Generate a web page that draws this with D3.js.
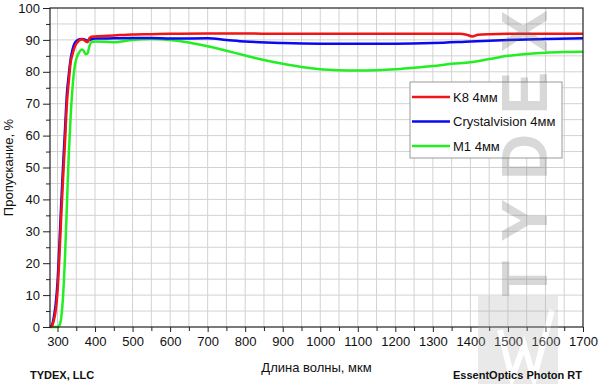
<!DOCTYPE html>
<html>
<head>
<meta charset="utf-8">
<script src="https://cdn.jsdelivr.net/npm/d3@7"></script>
<style>
body { margin: 0; background: #fff; }
text { font-family: "Liberation Sans", Arial, sans-serif; }
</style>
</head>
<body>
<script>
var width = 600, height = 384;
var x0 = 50, x1 = 583, y0 = 8, y1 = 327;

// spectra, wavelength in nm / transmission in %
var k8_wl = [280,285,290,295,300,305,310,315,320,325,330,335,340,345,350,355,360,365,370,375,380,385,390,400,450,500,550,600,700,800,900,1000,1100,1200,1300,1370,1390,1405,1420,1450,1500,1600,1700];
var k8_t  = [0,0.3,2,5,11,22,35,47,58,70,77,83,85.5,87.5,88.8,89.5,90,90.2,90,89.5,89.3,90.5,91,91.1,91.4,91.7,91.8,91.9,92,92,91.9,91.9,91.9,91.9,91.9,91.9,91.6,91.1,91.6,91.8,91.9,91.9,91.9];

var cv_wl = [280,285,290,295,300,305,310,315,320,325,330,335,340,345,350,355,360,365,370,380,390,400,450,500,550,600,700,750,800,900,1000,1100,1200,1300,1400,1500,1600,1700];
var cv_t  = [0,0.5,3,7,14,26,39,51,62,73,79,84,87,88.8,89.6,90,90.2,90.3,90.2,89.8,90.2,90.4,90.5,90.6,90.6,90.4,90.5,90,89.5,89,88.8,88.8,88.8,89,89.5,90,90.3,90.5];

var m1_wl = [280,300,305,310,315,320,325,330,335,340,345,350,355,360,365,370,375,380,385,390,400,450,500,550,600,650,700,750,800,850,900,950,1000,1050,1100,1150,1200,1250,1300,1350,1400,1450,1500,1550,1600,1650,1700];
var m1_t  = [0,0,0.5,3,10,22,38,54,66,75,81,84,85.5,86.5,87,86.5,85.5,85.8,88,89.3,89.5,89.3,90,90.3,90,89.2,88,86.6,85.1,83.7,82.5,81.5,80.8,80.5,80.4,80.5,80.8,81.3,81.8,82.5,83,84,85,85.6,86,86.2,86.3];

var series = [
  {name: 'M1 4мм', wl: m1_wl, t: m1_t, color: '#22ee22'},
  {name: 'Crystalvision 4мм', wl: cv_wl, t: cv_t, color: '#0a0af0'},
  {name: 'K8 4мм', wl: k8_wl, t: k8_t, color: '#f01414'}
];
var legend_order = [2, 1, 0];

var xTicks = d3.range(300, 1701, 100);
var yTicks = d3.range(0, 101, 10);

var svg = d3.select('body').append('svg').attr('width', width).attr('height', height);

var xScale = d3.scaleLinear().domain([280, 1700]).range([x0, x1]);
var yScale = d3.scaleLinear().domain([0, 100]).range([y1, y0]);

// grid, major + minor
var grid = svg.append('g').attr('class', 'grid');
grid.selectAll('.gx').data(d3.range(300, 1700, 50))
  .enter().append('line')
  .attr('x1', d => xScale(d)).attr('x2', d => xScale(d))
  .attr('y1', y0).attr('y2', y1)
  .attr('stroke', '#d2d2d2').attr('stroke-width', 1);
grid.selectAll('.gy').data(d3.range(5, 100, 5))
  .enter().append('line')
  .attr('x1', x0).attr('x2', x1)
  .attr('y1', d => yScale(d)).attr('y2', d => yScale(d))
  .attr('stroke', '#d2d2d2').attr('stroke-width', 1);

// curves
var line = d3.line().x(d => xScale(d[0])).y(d => yScale(d[1])).curve(d3.curveMonotoneX);
svg.append('g').selectAll('path').data(series)
  .enter().append('path')
  .attr('d', s => line(s.wl.map((w, i) => [w, s.t[i]])))
  .attr('fill', 'none')
  .attr('stroke', s => s.color)
  .attr('stroke-width', 2.5)
  .attr('stroke-linejoin', 'round');

// frame
svg.append('rect').attr('x', x0).attr('y', y0).attr('width', x1 - x0).attr('height', y1 - y0)
  .attr('fill', 'none').attr('stroke', '#222').attr('stroke-width', 1.2);

// axes
svg.append('g').attr('transform', 'translate(0,' + y1 + ')')
  .call(d3.axisBottom(xScale).tickValues(xTicks).tickSize(5).tickPadding(5).tickFormat(d3.format('d')));
svg.append('g').attr('transform', 'translate(0,' + y1 + ')')
  .call(d3.axisBottom(xScale).tickValues(d3.range(350, 1700, 100)).tickSize(4).tickFormat(''));
svg.append('g').attr('transform', 'translate(' + x0 + ',0)')
  .call(d3.axisLeft(yScale).tickValues(yTicks).tickSize(7).tickPadding(3));
svg.append('g').attr('transform', 'translate(' + x0 + ',0)')
  .call(d3.axisLeft(yScale).tickValues(d3.range(5, 100, 10)).tickSize(4).tickFormat(''));
svg.selectAll('.domain').remove();
svg.selectAll('.tick line').attr('stroke', '#222');
svg.selectAll('.tick text').style('font-family', '"Liberation Sans", Arial, sans-serif')
  .style('font-size', '13px').attr('fill', '#111');

// legend
var lg = svg.append('g').attr('transform', 'translate(410,82)');
lg.append('rect').attr('width', 152).attr('height', 76)
  .attr('fill', '#fff').attr('stroke', '#999').attr('stroke-width', 1);
legend_order.forEach(function(idx, i) {
  var s = series[idx];
  var yy = 15 + i * 24.5;
  lg.append('line').attr('x1', 2).attr('x2', 40).attr('y1', yy).attr('y2', yy)
    .attr('stroke', s.color).attr('stroke-width', 2.5);
  lg.append('text').attr('x', 43).attr('y', yy + 4.5).style('font-size', '13px').attr('fill', '#111')
    .text(s.name);
});

// watermark
var wm = svg.append('g').attr('opacity', 0.25);
wm.append('text')
  .attr('transform', 'translate(547,300) rotate(-90)')
  .attr('textLength', 290).attr('lengthAdjust', 'spacing')
  .style('font-size', '64px').style('font-weight', 'bold').attr('fill', '#666')
  .text('TYDEX');
wm.append('rect').attr('x', 478).attr('y', 296).attr('width', 80).attr('height', 88).attr('fill', '#aaa');
wm.append('path').attr('d', 'M500,330 L512,378 L524,345 L534,378 L552,310')
  .attr('fill', 'none').attr('stroke', '#fff').attr('stroke-width', 6);

// titles
svg.append('text').attr('transform', 'translate(13,' + ((y0 + y1) / 2) + ') rotate(-90)')
  .style('text-anchor', 'middle').style('font-size', '13px').attr('fill', '#111')
  .text('Пропускание, %');
svg.append('text').attr('x', (x0 + x1) / 2).attr('y', 372)
  .style('text-anchor', 'middle').style('font-size', '13px').attr('fill', '#111')
  .text('Длина волны, мкм');
svg.append('text').attr('x', 30).attr('y', 379)
  .style('font-size', '11px').style('font-weight', 'bold').attr('fill', '#111')
  .text('TYDEX, LLC');
svg.append('text').attr('x', 582).attr('y', 379).style('text-anchor', 'end')
  .style('font-size', '11px').style('font-weight', 'bold').attr('fill', '#111')
  .text('EssentOptics Photon RT');
</script>
</body>
</html>
